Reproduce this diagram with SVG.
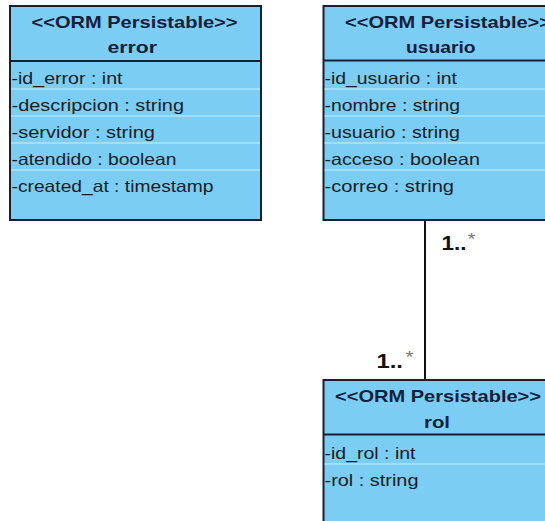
<svg xmlns="http://www.w3.org/2000/svg" width="545" height="521" viewBox="0 0 545 521">
  <style>
    .box { fill: #7CCDF3; stroke: #1B1E2C; stroke-width: 2; }
    .sep { stroke: #1B1E2C; stroke-width: 2; }
    .row { stroke: #BFF1FF; stroke-width: 1.2; }
    .stereo, .name { font-family: "Liberation Sans", Arial, sans-serif; font-weight: bold; fill: #16203A; }
    .stereo { font-size: 17px; }
    .name { font-size: 17px; }
    .attr { font-family: "Liberation Sans", Arial, sans-serif; font-size: 16.5px; fill: #1A1D24; }
    .assoc { stroke: #111; stroke-width: 2; fill: none; }
    .mult { font-family: "Liberation Sans", Arial, sans-serif; font-weight: bold; font-size: 21px; fill: #111; }
    .star { font-family: "Liberation Sans", Arial, sans-serif; font-size: 17px; fill: #777; }
  </style>

  <rect width="545" height="521" fill="#FFFFFF"/>

  <!-- association usuario 1..* — 1..* rol -->
  <g id="connectors">
    <line class="assoc" x1="425" y1="220" x2="425" y2="380"/>
    <text class="mult" x="441.5" y="250" textLength="25" lengthAdjust="spacingAndGlyphs">1..</text>
    <text class="star" x="467.5" y="244.5" textLength="8" lengthAdjust="spacingAndGlyphs">*</text>
    <text class="mult" x="376.5" y="368" textLength="26.5" lengthAdjust="spacingAndGlyphs">1..</text>
    <text class="star" x="405.5" y="363" textLength="8" lengthAdjust="spacingAndGlyphs">*</text>
  </g>

  <!-- class: error -->
  <g id="error">
    <rect class="box" x="10" y="6" width="251" height="214"/>
    <line class="sep" x1="10" y1="61" x2="261" y2="61"/>
    <line class="row" x1="11" y1="89" x2="260" y2="89"/>
    <line class="row" x1="11" y1="116" x2="260" y2="116"/>
    <line class="row" x1="11" y1="143" x2="260" y2="143"/>
    <line class="row" x1="11" y1="170" x2="260" y2="170"/>
    <text class="stereo" x="31.5" y="27.5" textLength="206" lengthAdjust="spacingAndGlyphs">&lt;&lt;ORM Persistable&gt;&gt;</text>
    <text class="name" x="107.5" y="53" textLength="49.5" lengthAdjust="spacingAndGlyphs">error</text>
    <text class="attr" x="11.5" y="83.5" textLength="111" lengthAdjust="spacingAndGlyphs">-id_error : int</text>
    <text class="attr" x="11.5" y="110.5" textLength="172.5" lengthAdjust="spacingAndGlyphs">-descripcion : string</text>
    <text class="attr" x="11.5" y="137.5" textLength="143.5" lengthAdjust="spacingAndGlyphs">-servidor : string</text>
    <text class="attr" x="11.5" y="164.5" textLength="165" lengthAdjust="spacingAndGlyphs">-atendido : boolean</text>
    <text class="attr" x="11.5" y="191.5" textLength="202" lengthAdjust="spacingAndGlyphs">-created_at : timestamp</text>
  </g>

  <!-- class: usuario -->
  <g id="usuario">
    <rect class="box" x="323.5" y="6" width="251" height="214"/>
    <line class="sep" x1="323.5" y1="60.5" x2="574.5" y2="60.5"/>
    <line class="row" x1="324.5" y1="89" x2="574" y2="89"/>
    <line class="row" x1="324.5" y1="116" x2="574" y2="116"/>
    <line class="row" x1="324.5" y1="143" x2="574" y2="143"/>
    <line class="row" x1="324.5" y1="170" x2="574" y2="170"/>
    <text class="stereo" x="345" y="27.5" textLength="206" lengthAdjust="spacingAndGlyphs">&lt;&lt;ORM Persistable&gt;&gt;</text>
    <text class="name" x="406" y="53" textLength="69.5" lengthAdjust="spacingAndGlyphs">usuario</text>
    <text class="attr" x="324.5" y="83.5" textLength="132.5" lengthAdjust="spacingAndGlyphs">-id_usuario : int</text>
    <text class="attr" x="324.5" y="110.5" textLength="135.5" lengthAdjust="spacingAndGlyphs">-nombre : string</text>
    <text class="attr" x="324.5" y="137.5" textLength="135.5" lengthAdjust="spacingAndGlyphs">-usuario : string</text>
    <text class="attr" x="324.5" y="164.5" textLength="155.5" lengthAdjust="spacingAndGlyphs">-acceso : boolean</text>
    <text class="attr" x="324.5" y="191.5" textLength="129.5" lengthAdjust="spacingAndGlyphs">-correo : string</text>
  </g>

  <!-- class: rol -->
  <g id="rol">
    <rect class="box" x="323.5" y="380" width="228" height="160"/>
    <line class="sep" x1="323.5" y1="434.5" x2="551.5" y2="434.5"/>
    <line class="row" x1="324.5" y1="464" x2="551" y2="464"/>
    <text class="stereo" x="335" y="401.5" textLength="206" lengthAdjust="spacingAndGlyphs">&lt;&lt;ORM Persistable&gt;&gt;</text>
    <text class="name" x="424" y="427.5" textLength="26" lengthAdjust="spacingAndGlyphs">rol</text>
    <text class="attr" x="324.5" y="458.5" textLength="91" lengthAdjust="spacingAndGlyphs">-id_rol : int</text>
    <text class="attr" x="324.5" y="485.5" textLength="94" lengthAdjust="spacingAndGlyphs">-rol : string</text>
  </g>
</svg>
